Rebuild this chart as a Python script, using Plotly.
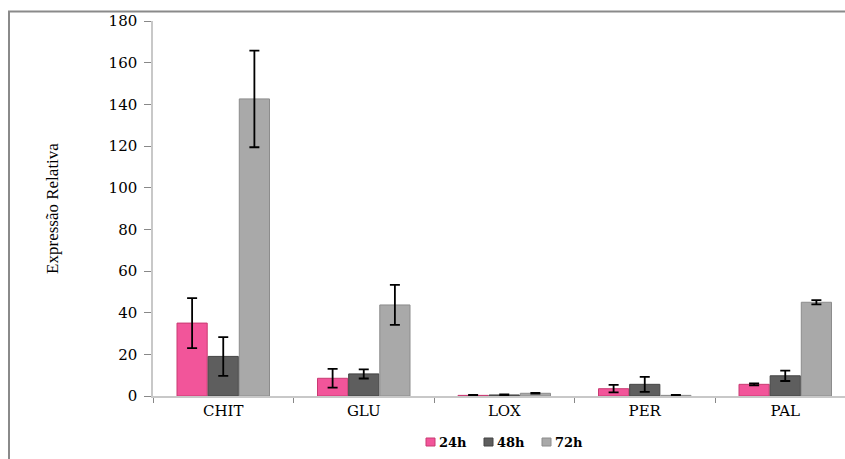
import plotly.graph_objects as go

# Gene expression data (relative expression) by time point
genes = ["CHIT", "GLU", "LOX", "PER", "PAL"]
series_names = ["24h", "48h", "72h"]
expr_24h = [35.0, 8.5, 0.3, 3.5, 5.6]
expr_48h = [19.0, 10.6, 0.5, 5.6, 9.7]
expr_72h = [142.6, 43.7, 1.3, 0.3, 45.0]
err_24h = [12.0, 4.5, 0.2, 1.8, 0.5]
err_48h = [9.3, 2.2, 0.3, 3.6, 2.5]
err_72h = [23.2, 9.6, 0.2, 0.2, 1.0]
y_ticks = [0, 20, 40, 60, 80, 100, 120, 140, 160, 180]

fill_colors = ["#F2559A", "#5E5E5E", "#A9A9A9"]
edge_colors = ["#C93A72", "#444444", "#8C8C8C"]

serif = "DejaVu Serif"
times = "Liberation Serif"

fig = go.Figure()
for name, vals, errs, fc, ec in zip(series_names,
                                    [expr_24h, expr_48h, expr_72h],
                                    [err_24h, err_48h, err_72h],
                                    fill_colors, edge_colors):
    fig.add_trace(go.Bar(
        x=genes, y=vals, name=name, showlegend=False,
        marker=dict(color=fc, line=dict(color=ec, width=1)),
        error_y=dict(type="data", array=errs, visible=True,
                     color="black", thickness=1.8, width=5),
    ))

# Plot area in pixels: left 153, right 845 (clipped), top 21, bottom 396
L, R, T, B = 153, 845, 21, 396
W, H = 845, 459
pw, ph = R - L, B - T
cat_w = 140.5


def px(x):
    return (x - L) / pw


def py(y):
    return (B - y) / ph


shapes = [dict(type="rect", xref="paper", yref="paper",
               x0=px(9), x1=px(852), y0=py(470), y1=py(11.5),
               line=dict(color="#8A8A8A", width=2), layer="below")]
annotations = []

# Legend: small coloured squares followed by the series names
legend_x = [426, 484, 542]
legend_y = 442
for name, lx, fc, ec in zip(series_names, legend_x, fill_colors, edge_colors):
    shapes.append(dict(type="rect", xref="paper", yref="paper",
                       x0=px(lx), x1=px(lx + 9), y0=py(legend_y + 4),
                       y1=py(legend_y - 4), fillcolor=fc,
                       line=dict(color=ec, width=1)))
    annotations.append(dict(text="<b>" + name + "</b>", xref="paper",
                            yref="paper", x=px(lx + 11), y=py(legend_y),
                            xanchor="left", yanchor="middle", showarrow=False,
                            font=dict(family=serif, size=13, color="black")))

fig.update_layout(
    width=W, height=H,
    margin=dict(l=L, r=W - R, t=T, b=H - B),
    paper_bgcolor="white", plot_bgcolor="white",
    barmode="group", bargap=0.335, bargroupgap=0.03,
    showlegend=False,
    xaxis=dict(range=[-0.5, -0.5 + pw / cat_w], showline=True,
               linecolor="#C8C8C8", linewidth=1.5, ticks="outside",
               tickson="boundaries", ticklen=5, tickcolor="#888888",
               tickfont=dict(family=serif, size=15, color="black"),
               showgrid=False, zeroline=False),
    yaxis=dict(range=[0, 180], tickvals=y_ticks, showline=True,
               linecolor="#C8C8C8", linewidth=1.5, ticks="outside",
               ticklen=7, tickcolor="#888888", ticklabelstandoff=4,
               tickfont=dict(family=serif, size=15, color="black"),
               showgrid=False, zeroline=False,
               title=dict(text="Expressão Relativa",
                          font=dict(family=times, size=17, color="black"),
                          standoff=46)),
    shapes=shapes,
    annotations=annotations,
)

fig.write_html("out.html")
